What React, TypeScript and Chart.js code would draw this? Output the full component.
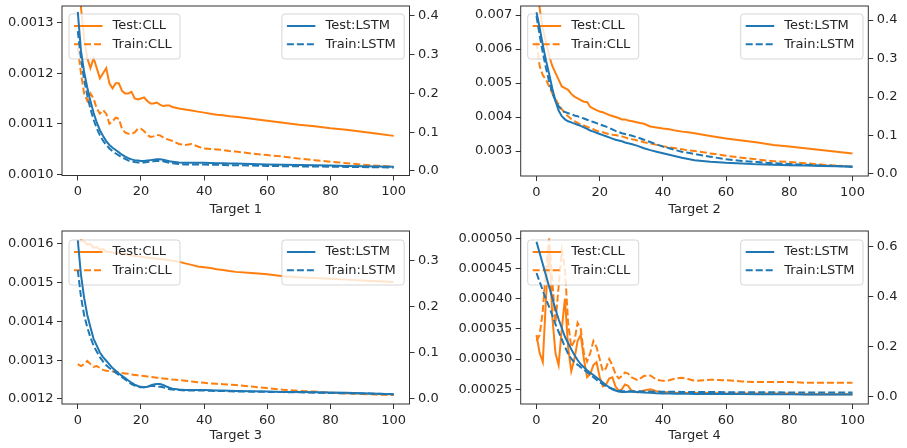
import React, { useEffect, useRef } from "react";
import { Chart, registerables } from "chart.js";
Chart.register(...registerables);

const EPOCHS = [
  0, 1, 2, 3, 4, 5, 6, 7, 8, 9, 10, 11, 12, 13, 14, 15, 16, 17, 18, 19, 20,
  21, 22, 23, 24, 25, 26, 27, 28, 29, 30, 32, 34, 36, 38, 40, 42, 44, 46, 48,
  50, 55, 60, 65, 70, 75, 80, 85, 90, 95, 100,
];
const X_TICKS = [0, 20, 40, 60, 80, 100];

// ---------- Target 1 ----------
const T1_TEST_CLL = [
  0.0014, 0.00133, 0.00127, 0.00123, 0.00121, 0.00123, 0.00121, 0.00119, 0.0012, 0.00121,
  0.00118, 0.00117, 0.00118, 0.00118, 0.001165, 0.00116, 0.00116, 0.001163, 0.00115, 0.001148,
  0.00115, 0.001152, 0.001145, 0.00114, 0.00114, 0.001142, 0.001138, 0.001135, 0.001136, 0.001136,
  0.001133, 0.00113, 0.001128, 0.001126, 0.001124, 0.001122, 0.00112, 0.001118, 0.001117, 0.001115,
  0.001114, 0.00111, 0.001106, 0.001102, 0.001098, 0.001095, 0.001091, 0.001088, 0.001084, 0.00108,
  0.001076,
];
const T1_TRAIN_CLL = [
  0.00125, 0.0012, 0.00116, 0.001145, 0.00116, 0.00115, 0.00113, 0.00112, 0.001127, 0.00112,
  0.0011, 0.001105, 0.001112, 0.00111, 0.00109, 0.001083, 0.00108, 0.00108, 0.001083, 0.00109,
  0.00109, 0.001085, 0.001078, 0.001074, 0.001075, 0.001078, 0.001077, 0.001073, 0.00107, 0.001068,
  0.001066, 0.00106, 0.001058, 0.00106, 0.001055, 0.001051, 0.00105, 0.001049, 0.001048, 0.001046,
  0.001045, 0.001041, 0.001038, 0.001035, 0.001031, 0.001028, 0.001025, 0.001022, 0.001019, 0.001017,
  0.001015,
];
const T1_TEST_LSTM = [
  0.41, 0.31, 0.255, 0.215, 0.18, 0.15, 0.125, 0.105, 0.09, 0.077,
  0.067, 0.06, 0.054, 0.048, 0.042, 0.037, 0.033, 0.03, 0.028, 0.027,
  0.026, 0.026, 0.027, 0.028, 0.029, 0.03, 0.03, 0.029, 0.027, 0.025,
  0.024, 0.022, 0.021, 0.021, 0.021, 0.021, 0.0205, 0.02, 0.02, 0.019,
  0.019, 0.018, 0.017, 0.016, 0.0155, 0.015, 0.014, 0.013, 0.012, 0.0115,
  0.011,
];
const T1_TRAIN_LSTM = [
  0.36, 0.29, 0.235, 0.195, 0.16, 0.132, 0.11, 0.092, 0.078, 0.067,
  0.058, 0.051, 0.045, 0.04, 0.035, 0.031, 0.027, 0.025, 0.023, 0.022,
  0.022, 0.022, 0.023, 0.024, 0.025, 0.026, 0.026, 0.025, 0.023, 0.021,
  0.02, 0.018, 0.017, 0.017, 0.017, 0.0165, 0.016, 0.016, 0.0155, 0.015,
  0.015, 0.014, 0.013, 0.0125, 0.012, 0.0115, 0.011, 0.0105, 0.01, 0.0095,
  0.009,
];
const T1_LEFT_TICKS = [0.001, 0.0011, 0.0012, 0.0013];
const T1_RIGHT_TICKS = [0, 0.1, 0.2, 0.3, 0.4];

// ---------- Target 2 ----------
const T2_TEST_CLL = [
  0.008, 0.0072, 0.0066, 0.0062, 0.0058, 0.0055, 0.0053, 0.0051, 0.0049, 0.00485,
  0.0048, 0.00468, 0.0046, 0.00455, 0.0045, 0.00445, 0.00444, 0.0043, 0.00425, 0.0042,
  0.00416, 0.00414, 0.0041, 0.00406, 0.00403, 0.004, 0.00397, 0.00393, 0.00393, 0.0039,
  0.00388, 0.00384, 0.0038, 0.00372, 0.00369, 0.00366, 0.00364, 0.0036, 0.00357, 0.00355,
  0.00352, 0.00344, 0.00337, 0.00331, 0.00325, 0.00318, 0.00313, 0.00308, 0.00303, 0.00298,
  0.00293,
];
const T2_TRAIN_CLL = [
  0.0062, 0.0055, 0.00523, 0.0051, 0.0049, 0.0047, 0.00452, 0.00437, 0.00423, 0.00411,
  0.00402, 0.00394, 0.00388, 0.00383, 0.00378, 0.00375, 0.00371, 0.00368, 0.00364, 0.0036,
  0.00357, 0.00355, 0.00352, 0.0035, 0.00348, 0.00347, 0.00345, 0.00343, 0.0034, 0.00337,
  0.00335, 0.00331, 0.00326, 0.00322, 0.00318, 0.00314, 0.00311, 0.00308, 0.00305, 0.00302,
  0.003, 0.00293, 0.00286, 0.0028, 0.00275, 0.0027, 0.00268, 0.00264, 0.0026, 0.00257,
  0.00254,
];
const T2_TEST_LSTM = [
  0.42, 0.38, 0.335, 0.295, 0.26, 0.222, 0.19, 0.165, 0.15, 0.142,
  0.137, 0.134, 0.131, 0.128, 0.125, 0.121, 0.117, 0.113, 0.11, 0.107,
  0.104, 0.101, 0.098, 0.095, 0.092, 0.089, 0.087, 0.085, 0.082, 0.08,
  0.078, 0.073, 0.067, 0.062, 0.058, 0.054, 0.05, 0.046, 0.042, 0.039,
  0.036, 0.032, 0.029, 0.027, 0.025, 0.024, 0.023, 0.022, 0.021, 0.02,
  0.019,
];
const T2_TRAIN_LSTM = [
  0.41, 0.36, 0.315, 0.275, 0.24, 0.21, 0.19, 0.176, 0.166, 0.161,
  0.158, 0.155, 0.152, 0.15, 0.147, 0.144, 0.141, 0.138, 0.135, 0.132,
  0.129, 0.126, 0.123, 0.12, 0.116, 0.112, 0.109, 0.106, 0.104, 0.102,
  0.1, 0.095, 0.089, 0.083, 0.077, 0.071, 0.067, 0.062, 0.058, 0.055,
  0.052, 0.045, 0.038, 0.034, 0.031, 0.028, 0.026, 0.024, 0.022, 0.021,
  0.019,
];
const T2_LEFT_TICKS = [0.003, 0.004, 0.005, 0.006, 0.007];
const T2_RIGHT_TICKS = [0, 0.1, 0.2, 0.3, 0.4];

// ---------- Target 3 ----------
const T3_TEST_CLL = [
  0.0016, 0.00161, 0.001607, 0.001598, 0.0016, 0.00159, 0.001592, 0.001585, 0.001587, 0.00158,
  0.00158, 0.001578, 0.001577, 0.001577, 0.001575, 0.001574, 0.001572, 0.00157, 0.001569, 0.001568,
  0.001567, 0.001566, 0.001565, 0.001564, 0.001563, 0.001562, 0.001561, 0.00156, 0.001559, 0.001558,
  0.001557, 0.001554, 0.00155, 0.001546, 0.001542, 0.00154, 0.001538, 0.001535, 0.001533, 0.00153,
  0.001528, 0.001525, 0.001522, 0.001517, 0.001514, 0.001512, 0.00151, 0.001508, 0.001506, 0.001504,
  0.001502,
];
const T3_TRAIN_CLL = [
  0.00129, 0.001285, 0.00129, 0.001298, 0.00129, 0.001283, 0.001285, 0.00128, 0.001275, 0.001273,
  0.001272, 0.001271, 0.00127, 0.001268, 0.001267, 0.001266, 0.001265, 0.001263, 0.001262, 0.001261,
  0.00126, 0.001259, 0.001258, 0.001257, 0.001256, 0.001255, 0.001254, 0.001253, 0.001252, 0.001251,
  0.00125, 0.001249, 0.001247, 0.001245, 0.001243, 0.001242, 0.00124, 0.001239, 0.001238, 0.001237,
  0.001236, 0.001232, 0.001228, 0.001224, 0.001221, 0.001219, 0.001216, 0.001214, 0.001213, 0.001211,
  0.00121,
];
const T3_TEST_LSTM = [
  0.345, 0.27, 0.22, 0.182, 0.155, 0.13, 0.115, 0.1, 0.09, 0.082,
  0.074, 0.066, 0.06, 0.054, 0.049, 0.044, 0.039, 0.034, 0.03, 0.027,
  0.025, 0.024, 0.025, 0.028, 0.03, 0.031, 0.031, 0.029, 0.026, 0.023,
  0.021, 0.019, 0.018, 0.018, 0.018, 0.018, 0.0175, 0.017, 0.017, 0.0165,
  0.016, 0.0155, 0.015, 0.014, 0.0135, 0.013, 0.0125, 0.012, 0.011, 0.01,
  0.009,
];
const T3_TRAIN_LSTM = [
  0.28, 0.222, 0.182, 0.155, 0.133, 0.115, 0.102, 0.09, 0.08, 0.072,
  0.066, 0.061, 0.056, 0.051, 0.046, 0.041, 0.036, 0.031, 0.028, 0.025,
  0.024, 0.024, 0.025, 0.027, 0.027, 0.026, 0.025, 0.024, 0.022, 0.02,
  0.019, 0.018, 0.017, 0.017, 0.017, 0.017, 0.0165, 0.016, 0.016, 0.0155,
  0.015, 0.0145, 0.014, 0.0135, 0.013, 0.012, 0.0115, 0.011, 0.0105, 0.01,
  0.009,
];
const T3_LEFT_TICKS = [0.0012, 0.0013, 0.0014, 0.0015, 0.0016];
const T3_RIGHT_TICKS = [0, 0.1, 0.2, 0.3];

// ---------- Target 4 ----------
const T4_TEST_CLL = [
  0.00034, 0.00031, 0.000295, 0.0004, 0.00049, 0.00037, 0.00031, 0.00029, 0.00035, 0.0004,
  0.00032, 0.00028, 0.0003, 0.00033, 0.00034, 0.0003, 0.00027, 0.000275, 0.00029, 0.000295,
  0.00027, 0.000255, 0.000258, 0.000268, 0.00027, 0.000255, 0.000247, 0.00025, 0.000258, 0.000256,
  0.000248, 0.000245, 0.000248, 0.00025, 0.000247, 0.000245, 0.000245, 0.000244, 0.000244, 0.000244,
  0.000244, 0.000244, 0.000243, 0.000243, 0.000243, 0.000243, 0.000243, 0.000242, 0.000242, 0.000242,
  0.000242,
];
const T4_TRAIN_CLL = [
  0.00033, 0.00034, 0.00038, 0.00045, 0.0005, 0.00043, 0.00036, 0.00042, 0.00048, 0.00045,
  0.00036, 0.00032, 0.00033, 0.00036, 0.00035, 0.00031, 0.000296, 0.00031, 0.00033, 0.00032,
  0.0003, 0.00028, 0.000285, 0.0003, 0.00029, 0.000275, 0.000268, 0.000272, 0.000278, 0.000276,
  0.00027, 0.000265, 0.000272, 0.000273, 0.000266, 0.000264, 0.000265, 0.000268, 0.000269, 0.000267,
  0.000264, 0.000266, 0.000265, 0.000263, 0.000262, 0.000262, 0.000262, 0.000261, 0.000261, 0.000261,
  0.000261,
];
const T4_TEST_LSTM = [
  0.62, 0.575, 0.53, 0.485, 0.44, 0.395, 0.35, 0.31, 0.275, 0.24,
  0.215, 0.19, 0.167, 0.147, 0.13, 0.118, 0.106, 0.096, 0.087, 0.077,
  0.067, 0.057, 0.047, 0.038, 0.03, 0.025, 0.021, 0.019, 0.019, 0.02,
  0.02, 0.019, 0.017, 0.016, 0.014, 0.013, 0.0125, 0.012, 0.012, 0.0115,
  0.0115, 0.011, 0.011, 0.0105, 0.01, 0.01, 0.0095, 0.0095, 0.009, 0.009,
  0.009,
];
const T4_TRAIN_LSTM = [
  0.495, 0.46, 0.425, 0.39, 0.36, 0.325, 0.29, 0.26, 0.23, 0.2,
  0.172, 0.152, 0.138, 0.128, 0.118, 0.108, 0.098, 0.088, 0.078, 0.068,
  0.058, 0.05, 0.043, 0.037, 0.032, 0.028, 0.025, 0.023, 0.022, 0.022,
  0.022, 0.022, 0.021, 0.021, 0.02, 0.02, 0.02, 0.02, 0.019, 0.019,
  0.019, 0.019, 0.018, 0.018, 0.018, 0.018, 0.017, 0.017, 0.017, 0.017,
  0.017,
];
const T4_LEFT_TICKS = [0.00025, 0.0003, 0.00035, 0.0004, 0.00045, 0.0005];
const T4_RIGHT_TICKS = [0, 0.2, 0.4, 0.6];

const ORANGE = "#ff7f0e";
const BLUE = "#1f77b4";
const TEXT = "#262626";
const AXIS = "#333333";
const FONT = { family: "'DejaVu Sans', sans-serif", size: 13 };
const DASH = [7, 3];

type PanelCfg = {
  title: string;
  testCLL: number[];
  trainCLL: number[];
  testLSTM: number[];
  trainLSTM: number[];
  leftTicks: number[];
  rightTicks: number[];
  leftDec: number;
  leftMin: number;
  leftMax: number;
  rightMin: number;
  rightMax: number;
  left: number;
  top: number;
  w: number;
  h: number;
  leftW: number;
  rightW: number;
  padTop: number;
  xH: number;
  titlePad: number;
  legendDy: number;
};

const PANELS: PanelCfg[] = [
  {
    title: "Target 1", testCLL: T1_TEST_CLL, trainCLL: T1_TRAIN_CLL, testLSTM: T1_TEST_LSTM, trainLSTM: T1_TRAIN_LSTM,
    leftTicks: T1_LEFT_TICKS, rightTicks: T1_RIGHT_TICKS, leftDec: 4,
    leftMin: 0.0009976, leftMax: 0.001333, rightMin: -0.0116, rightMax: 0.425,
    left: 0, top: 0, w: 453, h: 225, leftW: 62, rightW: 43.5, padTop: 6, xH: 49.5, titlePad: 7.2, legendDy: 8,
  },
  {
    title: "Target 2", testCLL: T2_TEST_CLL, trainCLL: T2_TRAIN_CLL, testLSTM: T2_TEST_LSTM, trainLSTM: T2_TRAIN_LSTM,
    leftTicks: T2_LEFT_TICKS, rightTicks: T2_RIGHT_TICKS, leftDec: 3,
    leftMin: 0.002265, leftMax: 0.007265, rightMin: -0.0052, rightMax: 0.4364,
    left: 453, top: 0, w: 454, h: 225, leftW: 67.7, rightW: 38.7, padTop: 6, xH: 49, titlePad: 7.2, legendDy: 8,
  },
  {
    title: "Target 3", testCLL: T3_TEST_CLL, trainCLL: T3_TRAIN_CLL, testLSTM: T3_TEST_LSTM, trainLSTM: T3_TRAIN_LSTM,
    leftTicks: T3_LEFT_TICKS, rightTicks: T3_RIGHT_TICKS, leftDec: 4,
    leftMin: 0.001187, leftMax: 0.0016335, rightMin: -0.01245, rightMax: 0.3655,
    left: 0, top: 225, w: 453, h: 223, leftW: 62, rightW: 43.5, padTop: 6, xH: 44, titlePad: 4.3, legendDy: 9,
  },
  {
    title: "Target 4", testCLL: T4_TEST_CLL, trainCLL: T4_TRAIN_CLL, testLSTM: T4_TEST_LSTM, trainLSTM: T4_TRAIN_LSTM,
    leftTicks: T4_LEFT_TICKS, rightTicks: T4_RIGHT_TICKS, leftDec: 5,
    leftMin: 0.0002257, leftMax: 0.0005121, rightMin: -0.029, rightMax: 0.663,
    left: 453, top: 225, w: 454, h: 223, leftW: 67.7, rightW: 38.7, padTop: 6, xH: 44, titlePad: 4.3, legendDy: 9,
  },
];

function zeroPad(s: any) {
  s.paddingTop = 0;
  s.paddingBottom = 0;
  s.paddingLeft = 0;
  s.paddingRight = 0;
}

type LegendItem = { label: string; color: string; dash: number[] };

function drawLegendBox(ctx: CanvasRenderingContext2D, x: number, y: number, w: number, h: number, items: LegendItem[]) {
  ctx.save();
  const r = 3;
  ctx.beginPath();
  ctx.moveTo(x + r, y);
  ctx.lineTo(x + w - r, y);
  ctx.arcTo(x + w, y, x + w, y + r, r);
  ctx.lineTo(x + w, y + h - r);
  ctx.arcTo(x + w, y + h, x + w - r, y + h, r);
  ctx.lineTo(x + r, y + h);
  ctx.arcTo(x, y + h, x, y + h - r, r);
  ctx.lineTo(x, y + r);
  ctx.arcTo(x, y, x + r, y, r);
  ctx.closePath();
  ctx.fillStyle = "rgba(255,255,255,0.8)";
  ctx.fill();
  ctx.strokeStyle = "rgba(204,204,204,0.8)";
  ctx.lineWidth = 1;
  ctx.stroke();
  items.forEach((it, i) => {
    const cy = y + 12 + i * 18.3;
    ctx.beginPath();
    ctx.setLineDash(it.dash);
    ctx.strokeStyle = it.color;
    ctx.lineWidth = 2;
    ctx.moveTo(x + 5, cy);
    ctx.lineTo(x + 33.5, cy);
    ctx.stroke();
    ctx.setLineDash([]);
    ctx.fillStyle = TEXT;
    ctx.font = `13px 'DejaVu Sans', sans-serif`;
    ctx.textAlign = "left";
    ctx.textBaseline = "middle";
    ctx.fillText(it.label, x + 43.5, cy);
  });
  ctx.restore();
}

function Panel({ cfg }: { cfg: PanelCfg }) {
  const ref = useRef<HTMLCanvasElement>(null);
  useEffect(() => {
    const canvas = ref.current;
    if (!canvas) return;
    let leftDone = false;
    const drawLeft = (chart: any) => {
      const a = chart.chartArea;
      drawLegendBox(chart.ctx, a.left + 7, a.top + cfg.legendDy, 111, 45, [
        { label: "Test:CLL", color: ORANGE, dash: [] },
        { label: "Train:CLL", color: ORANGE, dash: DASH },
      ]);
    };
    const drawRight = (chart: any) => {
      const a = chart.chartArea;
      const w = 122.3;
      drawLegendBox(chart.ctx, a.right - 5.3 - w, a.top + cfg.legendDy, w, 45, [
        { label: "Test:LSTM", color: BLUE, dash: [] },
        { label: "Train:LSTM", color: BLUE, dash: DASH },
      ]);
    };
    const mplPlugin = {
      id: "mplLook",
      beforeDatasetsDraw() {
        leftDone = false;
      },
      beforeDatasetDraw(chart: any, args: any) {
        const ds = chart.data.datasets[args.index];
        if (ds.yAxisID === "yR" && !leftDone) {
          drawLeft(chart);
          leftDone = true;
        }
      },
      afterDatasetsDraw(chart: any) {
        if (!leftDone) {
          drawLeft(chart);
          leftDone = true;
        }
        const a = chart.chartArea;
        const ctx = chart.ctx;
        ctx.save();
        ctx.strokeStyle = AXIS;
        ctx.lineWidth = 1;
        ctx.strokeRect(a.left, a.top, a.right - a.left, a.bottom - a.top);
        ctx.restore();
        drawRight(chart);
      },
    };

    const series = (vals: number[]) => EPOCHS.map((e, i) => ({ x: e, y: vals[i] }));
    const tickStyle = { font: FONT, color: TEXT, padding: 3.5, autoSkip: false, maxRotation: 0 };
    const gridStyle = { drawOnChartArea: false, drawTicks: true, tickLength: 5, tickColor: AXIS, tickWidth: 1 };

    const chart = new Chart(canvas, {
      type: "line",
      data: {
        datasets: [
          { label: "Test:CLL", data: series(cfg.testCLL), yAxisID: "yL", borderColor: ORANGE, borderWidth: 2, pointRadius: 0, tension: 0, order: 2 },
          { label: "Train:CLL", data: series(cfg.trainCLL), yAxisID: "yL", borderColor: ORANGE, borderWidth: 2, borderDash: DASH, pointRadius: 0, tension: 0, order: 2 },
          { label: "Test:LSTM", data: series(cfg.testLSTM), yAxisID: "yR", borderColor: BLUE, borderWidth: 2, pointRadius: 0, tension: 0, order: 1 },
          { label: "Train:LSTM", data: series(cfg.trainLSTM), yAxisID: "yR", borderColor: BLUE, borderWidth: 2, borderDash: DASH, pointRadius: 0, tension: 0, order: 1 },
        ],
      } as any,
      options: {
        responsive: false,
        animation: false,
        devicePixelRatio: 1,
        events: [],
        layout: { padding: { top: cfg.padTop, left: 0, right: 0, bottom: 0 } },
        plugins: { legend: { display: false }, tooltip: { enabled: false }, title: { display: false } },
        scales: {
          x: {
            type: "linear",
            position: "bottom",
            min: -5,
            max: 105,
            afterBuildTicks: (s: any) => {
              s.ticks = X_TICKS.map((v) => ({ value: v }));
            },
            afterFit: (s: any) => {
              s.height = cfg.xH;
              zeroPad(s);
            },
            ticks: { ...tickStyle, callback: (v: any) => String(v) },
            grid: gridStyle,
            border: { display: false },
            title: { display: true, text: cfg.title, font: FONT, color: TEXT, padding: { top: 0, bottom: cfg.titlePad } },
          },
          yL: {
            type: "linear",
            position: "left",
            min: cfg.leftMin,
            max: cfg.leftMax,
            afterBuildTicks: (s: any) => {
              s.ticks = cfg.leftTicks.map((v) => ({ value: v }));
            },
            afterFit: (s: any) => {
              s.width = cfg.leftW;
              zeroPad(s);
            },
            ticks: { ...tickStyle, callback: (v: any) => Number(v).toFixed(cfg.leftDec) },
            grid: gridStyle,
            border: { display: false },
          },
          yR: {
            type: "linear",
            position: "right",
            min: cfg.rightMin,
            max: cfg.rightMax,
            afterBuildTicks: (s: any) => {
              s.ticks = cfg.rightTicks.map((v) => ({ value: v }));
            },
            afterFit: (s: any) => {
              s.width = cfg.rightW;
              zeroPad(s);
            },
            ticks: { ...tickStyle, callback: (v: any) => Number(v).toFixed(1) },
            grid: gridStyle,
            border: { display: false },
          },
        },
      } as any,
      plugins: [mplPlugin as any],
    });
    return () => chart.destroy();
  }, [cfg]);
  return (
    <canvas
      ref={ref}
      width={cfg.w}
      height={cfg.h}
      style={{ position: "absolute", left: cfg.left, top: cfg.top, width: cfg.w, height: cfg.h, display: "block" }}
    />
  );
}

export default function App() {
  return (
    <div style={{ position: "fixed", left: 0, top: 0, width: 907, height: 448, background: "#ffffff", overflow: "hidden" }}>
      {PANELS.map((p) => (
        <Panel key={p.title} cfg={p} />
      ))}
    </div>
  );
}
